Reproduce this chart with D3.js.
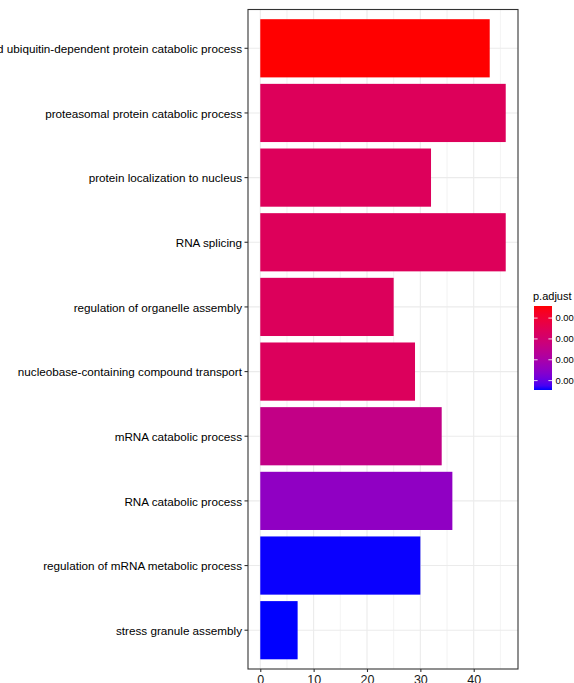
<!DOCTYPE html>
<html>
<head>
<meta charset="utf-8">
<script src="https://cdn.jsdelivr.net/npm/d3@7"></script>
<style>
  html, body { margin: 0; padding: 0; background: #fff; overflow: hidden; }
  svg { display: block; font-family: "Liberation Sans", Arial, Helvetica, sans-serif; }
</style>
</head>
<body>
<svg id="chart" width="574" height="683"></svg>
<script>
// GO enrichment terms, top to bottom
const terms = [
  "proteasome-mediated ubiquitin-dependent protein catabolic process",
  "proteasomal protein catabolic process",
  "protein localization to nucleus",
  "RNA splicing",
  "regulation of organelle assembly",
  "nucleobase-containing compound transport",
  "mRNA catabolic process",
  "RNA catabolic process",
  "regulation of mRNA metabolic process",
  "stress granule assembly"
];
// gene counts
const counts = [43, 46, 32, 46, 25, 29, 34, 36, 30, 7];
// adjusted p-values
const padj = [0.00142, 0.00262, 0.00263, 0.00262, 0.00264, 0.00265, 0.00340, 0.00445, 0.00544, 0.00545];
// legend ticks
const legendTicks = [0.002, 0.003, 0.004, 0.005];
const xTicks = [0, 10, 20, 30, 40];
const xMinor = [5, 15, 25, 35, 45];

const svg = d3.select("#chart");
const panel = { left: 248, right: 518, top: 9.5, bottom: 669 };

const xMax = d3.max(counts);
const pad = xMax * 0.05;
const x = d3.scaleLinear().domain([-pad, xMax + pad]).range([panel.left, panel.right]);
const y = d3.scaleBand().domain(terms).range([panel.top, panel.bottom])
  .paddingInner(0.1).paddingOuter(0.15);

const pExtent = d3.extent(padj);
const color = d3.scaleLinear().domain(pExtent).range(["red", "blue"]).interpolate(d3.interpolateLab);

// panel background
svg.append("rect").attr("x", panel.left).attr("y", panel.top)
  .attr("width", panel.right - panel.left).attr("height", panel.bottom - panel.top)
  .attr("fill", "#fff");

// grid lines
const grid = svg.append("g");
grid.selectAll("line.minor").data(xMinor).join("line")
  .attr("x1", d => x(d)).attr("x2", d => x(d))
  .attr("y1", panel.top).attr("y2", panel.bottom)
  .attr("stroke", "#ebebeb").attr("stroke-width", 0.6);
grid.selectAll("line.vmajor").data(xTicks).join("line")
  .attr("x1", d => x(d)).attr("x2", d => x(d))
  .attr("y1", panel.top).attr("y2", panel.bottom)
  .attr("stroke", "#ebebeb").attr("stroke-width", 1.1);
grid.selectAll("line.hmajor").data(terms).join("line")
  .attr("x1", panel.left).attr("x2", panel.right)
  .attr("y1", d => y(d) + y.bandwidth() / 2).attr("y2", d => y(d) + y.bandwidth() / 2)
  .attr("stroke", "#ebebeb").attr("stroke-width", 1.1);

// bars
svg.append("g").selectAll("rect").data(terms).join("rect")
  .attr("x", x(0))
  .attr("y", d => y(d))
  .attr("width", (d, i) => x(counts[i]) - x(0))
  .attr("height", y.bandwidth())
  .attr("fill", (d, i) => color(padj[i]));

// panel border
svg.append("rect").attr("x", panel.left).attr("y", panel.top)
  .attr("width", panel.right - panel.left).attr("height", panel.bottom - panel.top)
  .attr("fill", "none").attr("stroke", "#333").attr("stroke-width", 1.1);

// axes
const xAxis = svg.append("g").attr("transform", `translate(0,${panel.bottom})`)
  .call(d3.axisBottom(x).tickValues(xTicks).tickSize(3).tickPadding(3.5).tickSizeOuter(0));
xAxis.select(".domain").remove();
xAxis.selectAll(".tick line").attr("stroke", "#333").attr("stroke-width", 1.1);
xAxis.selectAll(".tick text").attr("font-size", 12.5).attr("fill", "#1a1a1a")
  .attr("font-family", "Liberation Sans, Arial, sans-serif");

const yAxis = svg.append("g").attr("transform", `translate(${panel.left},0)`)
  .call(d3.axisLeft(y).tickSize(3.5).tickPadding(2.5).tickSizeOuter(0));
yAxis.select(".domain").remove();
yAxis.selectAll(".tick line").attr("stroke", "#333").attr("stroke-width", 1.1);
yAxis.selectAll(".tick text").attr("font-size", 11.7).attr("fill", "#000")
  .attr("dy", "0.4em")
  .attr("font-family", "Liberation Sans, Arial, sans-serif");

// colour legend (low p-values on top)
const leg = { x: 534, top: 306, w: 18, h: 84 };
const defs = svg.append("defs");
const grad = defs.append("linearGradient").attr("id", "padjGrad")
  .attr("x1", 0).attr("x2", 0).attr("y1", 0).attr("y2", 1);
d3.range(0, 1.0001, 0.05).forEach(t => {
  grad.append("stop").attr("offset", t)
    .attr("stop-color", color(pExtent[0] + t * (pExtent[1] - pExtent[0])));
});
const ly = d3.scaleLinear().domain(pExtent).range([leg.top, leg.top + leg.h]);

svg.append("text").attr("x", leg.x - 1).attr("y", 299.5)
  .attr("font-size", 11).attr("fill", "#000").text("p.adjust");
svg.append("rect").attr("x", leg.x).attr("y", leg.top)
  .attr("width", leg.w).attr("height", leg.h).attr("fill", "url(#padjGrad)");
const lt = svg.append("g");
lt.selectAll("line.l").data(legendTicks).join("line")
  .attr("x1", leg.x).attr("x2", leg.x + 3.6)
  .attr("y1", d => ly(d)).attr("y2", d => ly(d))
  .attr("stroke", "#fff").attr("stroke-opacity", 0.85).attr("stroke-width", 1);
lt.selectAll("line.r").data(legendTicks).join("line")
  .attr("x1", leg.x + leg.w - 3.6).attr("x2", leg.x + leg.w)
  .attr("y1", d => ly(d)).attr("y2", d => ly(d))
  .attr("stroke", "#fff").attr("stroke-opacity", 0.85).attr("stroke-width", 1);
lt.selectAll("text").data(legendTicks).join("text")
  .attr("x", leg.x + leg.w + 3.5) .attr("y", d => ly(d))
  .attr("dy", "0.35em").attr("font-size", 9.4).attr("fill", "#000")
  .text(d => d3.format(".3f")(d));
</script>
</body>
</html>
